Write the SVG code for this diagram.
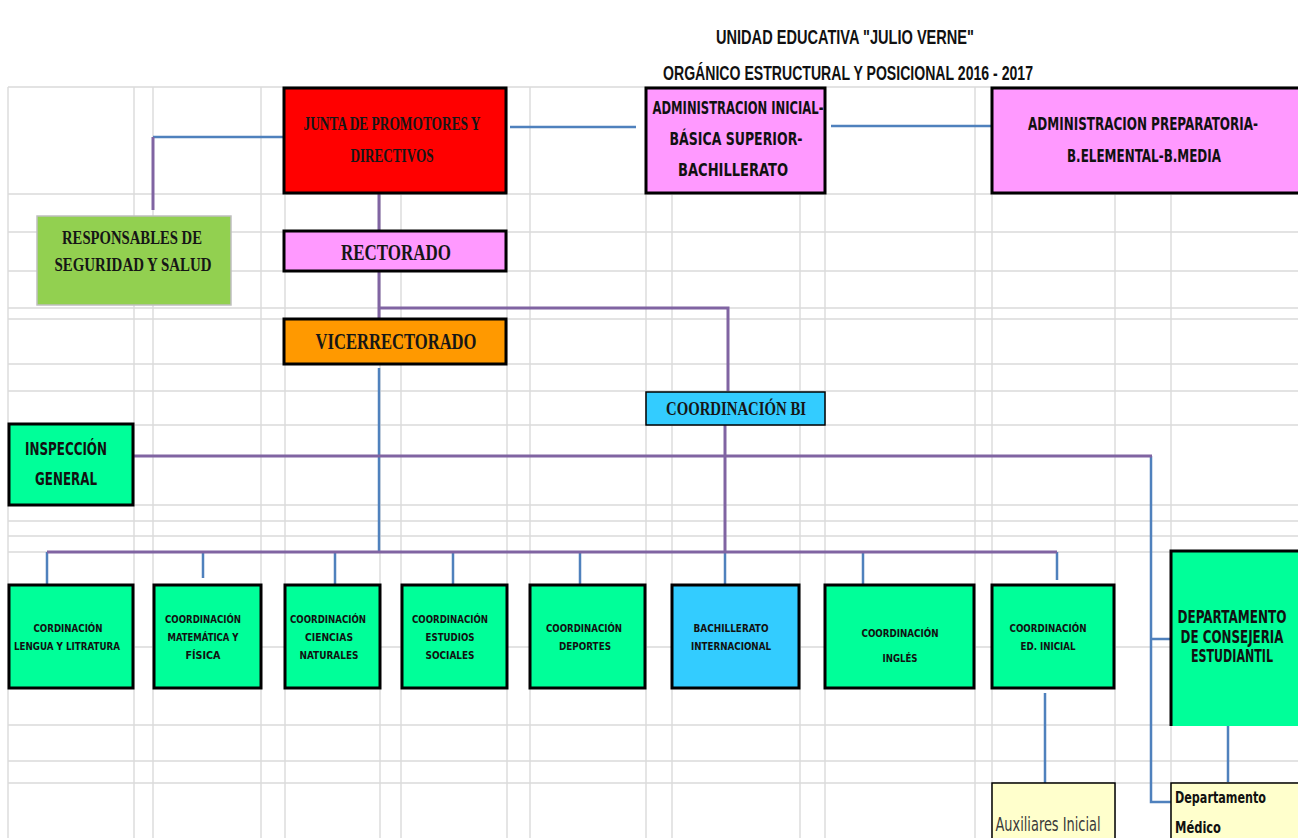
<svg xmlns="http://www.w3.org/2000/svg" width="1298" height="838" viewBox="0 0 1298 838">
<style>
.g{stroke:#DADADA;stroke-width:1.4}
.cb{stroke:#4F81BD;stroke-width:2.5;fill:none}
.cp{stroke:#8064A2;stroke-width:3;fill:none}
.bx{stroke:#000;stroke-width:3}
.th{stroke:#000;stroke-width:1.5}
.ti{font-family:"Liberation Sans",Arial,sans-serif;font-weight:bold;font-size:20px;fill:#111}
.sf{font-family:"Liberation Serif","Times New Roman",serif;font-weight:bold;fill:#161616}
.ag{font-family:"DejaVu Sans Condensed","DejaVu Sans",sans-serif;font-weight:bold;fill:#111}
.sm{font-family:"DejaVu Sans Condensed","DejaVu Sans",sans-serif;font-weight:bold;font-size:11px;fill:#111}
text{text-anchor:middle}
</style>
<rect width="1298" height="838" fill="#fff"/>
<g id="grid">
<path class="g" d="M8,87V838M134,87V838M153,87V838M261,87V838M285,87V838M380,87V838M401,87V838M507,87V838M530,87V838M646,87V838M672,87V838M800,87V838M825,87V838M975,87V838M992,87V838M1115,87V838M1171,87V838"/>
<path class="g" d="M8,87H1298M8,194H1298M8,232H1298M8,271H1298M8,308H1298M8,319H1298M8,364H1298M8,391H1298M8,425H1298M8,505H1298M8,521H1298M8,536H1298M8,552H1298M8,647H1298M8,725H1298M8,761H1298M8,783H1298"/>
</g>
<g id="title">
<text class="ti" x="845" y="44" textLength="258" lengthAdjust="spacingAndGlyphs">UNIDAD EDUCATIVA "JULIO VERNE"</text>
<text class="ti" x="848" y="80" textLength="370" lengthAdjust="spacingAndGlyphs">ORGÁNICO ESTRUCTURAL Y POSICIONAL 2016 - 2017</text>
</g>
<g id="connectors">
<path class="cb" d="M283,137H153"/>
<path class="cp" d="M153,137V210"/>
<path class="cb" d="M510,127H636"/>
<path class="cb" d="M831,126H994"/>
<path class="cp" d="M379,193V230M379,271V320M379,308H728V391"/>
<path class="cb" d="M379,368V552"/>
<path class="cp" d="M725,425V552"/>
<path class="cb" d="M47,552V584M203,552V578M335,552V584M453,552V584M580,552V584M725,552V584M863,552V584M1057,552V580"/>
<path class="cp" d="M47,552H1057"/>
<path class="cb" d="M1151,456V802H1171M1151,639H1171"/>
<path class="cp" d="M133,456H1152"/>
<path class="cb" d="M1045,693V783M1228,726V782"/>
</g>
<g id="junta">
<rect class="bx" x="284" y="88" width="222" height="105" fill="#FF0000"/>
<text class="sf" x="392" y="130" font-size="18" textLength="177" lengthAdjust="spacingAndGlyphs">JUNTA DE PROMOTORES Y</text>
<text class="sf" x="392" y="162" font-size="18" textLength="83" lengthAdjust="spacingAndGlyphs">DIRECTIVOS</text>
</g>
<g id="admin-inicial">
<rect class="bx" x="646" y="88" width="179" height="105" fill="#FF99FF"/>
<text class="ag" x="738" y="114" font-size="17" textLength="171" lengthAdjust="spacingAndGlyphs">ADMINISTRACION INICIAL-</text>
<text class="ag" x="736" y="145" font-size="17" textLength="133" lengthAdjust="spacingAndGlyphs">BÁSICA SUPERIOR-</text>
<text class="ag" x="733" y="176" font-size="17" textLength="110" lengthAdjust="spacingAndGlyphs">BACHILLERATO</text>
</g>
<g id="admin-preparatoria">
<rect x="992" y="88" width="306" height="105" fill="#FF99FF"/>
<path d="M1298,88H992V193H1298" fill="none" stroke="#000" stroke-width="3"/>
<text class="ag" x="1143" y="130" font-size="17" textLength="230" lengthAdjust="spacingAndGlyphs">ADMINISTRACION PREPARATORIA-</text>
<text class="ag" x="1144" y="162" font-size="17" textLength="154" lengthAdjust="spacingAndGlyphs">B.ELEMENTAL-B.MEDIA</text>
</g>
<g id="responsables">
<rect x="37" y="216" width="194" height="89" fill="#92D050" stroke="#BFBFBF" stroke-width="1.5"/>
<text class="sf" x="132" y="244" font-size="18" textLength="140" lengthAdjust="spacingAndGlyphs">RESPONSABLES  DE</text>
<text class="sf" x="133" y="271" font-size="18" textLength="157" lengthAdjust="spacingAndGlyphs">SEGURIDAD  Y SALUD</text>
</g>
<g id="rectorado">
<rect class="bx" x="284" y="231" width="222" height="40" fill="#FF99FF"/>
<text class="sf" x="396" y="260" font-size="23" textLength="110" lengthAdjust="spacingAndGlyphs">RECTORADO</text>
</g>
<g id="vicerrectorado">
<rect class="bx" x="284" y="319" width="222" height="45" fill="#FF9900"/>
<text class="sf" x="396" y="349" font-size="24" textLength="161" lengthAdjust="spacingAndGlyphs">VICERRECTORADO</text>
</g>
<g id="coordinacion-bi">
<rect class="th" x="646" y="392" width="179" height="33" fill="#33CCFF"/>
<text class="sf" x="736" y="415" font-size="18" textLength="140" lengthAdjust="spacingAndGlyphs">COORDINACIÓN BI</text>
</g>
<g id="inspeccion">
<rect class="bx" x="9" y="424" width="124" height="81" fill="#00FF99"/>
<text class="ag" x="66" y="455" font-size="17" textLength="82" lengthAdjust="spacingAndGlyphs">INSPECCIÓN</text>
<text class="ag" x="66" y="485" font-size="17" textLength="62" lengthAdjust="spacingAndGlyphs">GENERAL</text>
</g>
<g id="lengua">
<rect class="bx" x="9" y="585" width="124" height="103" fill="#00FF99"/>
<text class="sm" x="68" y="632" textLength="69" lengthAdjust="spacingAndGlyphs">CORDINACIÓN</text>
<text class="sm" x="67" y="650" textLength="106" lengthAdjust="spacingAndGlyphs">LENGUA Y LITRATURA</text>
</g>
<g id="matematica">
<rect class="bx" x="154" y="585" width="107" height="103" fill="#00FF99"/>
<text class="sm" x="203" y="623" textLength="76" lengthAdjust="spacingAndGlyphs">COORDINACIÓN</text>
<text class="sm" x="203" y="641" textLength="71" lengthAdjust="spacingAndGlyphs">MATEMÁTICA Y</text>
<text class="sm" x="203" y="659" textLength="35" lengthAdjust="spacingAndGlyphs">FÍSICA</text>
</g>
<g id="ciencias">
<rect class="bx" x="285" y="585" width="95" height="103" fill="#00FF99"/>
<text class="sm" x="328" y="623" textLength="76" lengthAdjust="spacingAndGlyphs">COORDINACIÓN</text>
<text class="sm" x="329" y="641" textLength="48" lengthAdjust="spacingAndGlyphs">CIENCIAS</text>
<text class="sm" x="329" y="659" textLength="59" lengthAdjust="spacingAndGlyphs">NATURALES</text>
</g>
<g id="estudios">
<rect class="bx" x="402" y="585" width="105" height="103" fill="#00FF99"/>
<text class="sm" x="450" y="623" textLength="76" lengthAdjust="spacingAndGlyphs">COORDINACIÓN</text>
<text class="sm" x="450" y="641" textLength="49" lengthAdjust="spacingAndGlyphs">ESTUDIOS</text>
<text class="sm" x="450" y="659" textLength="49" lengthAdjust="spacingAndGlyphs">SOCIALES</text>
</g>
<g id="deportes">
<rect class="bx" x="530" y="585" width="115" height="103" fill="#00FF99"/>
<text class="sm" x="584" y="632" textLength="76" lengthAdjust="spacingAndGlyphs">COORDINACIÓN</text>
<text class="sm" x="585" y="650" textLength="52" lengthAdjust="spacingAndGlyphs">DEPORTES</text>
</g>
<g id="bachillerato">
<rect class="bx" x="672" y="585" width="127" height="103" fill="#33CCFF"/>
<text class="sm" x="731" y="632" textLength="75" lengthAdjust="spacingAndGlyphs">BACHILLERATO</text>
<text class="sm" x="731" y="650" textLength="80" lengthAdjust="spacingAndGlyphs">INTERNACIONAL</text>
</g>
<g id="ingles">
<rect class="bx" x="825" y="585" width="149" height="103" fill="#00FF99"/>
<text class="sm" x="900" y="637" textLength="77" lengthAdjust="spacingAndGlyphs">COORDINACIÓN</text>
<text class="sm" x="900" y="662" textLength="35" lengthAdjust="spacingAndGlyphs">INGLÉS</text>
</g>
<g id="ed-inicial">
<rect class="bx" x="992" y="585" width="122" height="103" fill="#00FF99"/>
<text class="sm" x="1048" y="632" textLength="77" lengthAdjust="spacingAndGlyphs">COORDINACIÓN</text>
<text class="sm" x="1048" y="650" textLength="55" lengthAdjust="spacingAndGlyphs">ED. INICIAL</text>
</g>
<g id="consejeria">
<rect x="1171" y="551" width="127" height="175" fill="#00FF99"/>
<path d="M1171,726V551H1298" fill="none" stroke="#000" stroke-width="3"/>
<text class="ag" x="1232" y="623" font-size="18" textLength="109" lengthAdjust="spacingAndGlyphs">DEPARTAMENTO</text>
<text class="ag" x="1232" y="643" font-size="18" textLength="103" lengthAdjust="spacingAndGlyphs">DE CONSEJERIA</text>
<text class="ag" x="1232" y="662" font-size="18" textLength="82" lengthAdjust="spacingAndGlyphs">ESTUDIANTIL</text>
</g>
<g id="auxiliares">
<rect x="992" y="783" width="123" height="55" fill="#FFFFCC"/>
<path d="M992,838V783H1115V838" fill="none" stroke="#000" stroke-width="1.5"/>
<text x="1048" y="831" font-family="DejaVu Sans Condensed, DejaVu Sans, sans-serif" font-size="20" fill="#3A3A3A" textLength="105" lengthAdjust="spacingAndGlyphs">Auxiliares Inicial</text>
</g>
<g id="medico">
<rect x="1171" y="783" width="127" height="55" fill="#FFFFCC"/>
<path d="M1171,838V783H1298" fill="none" stroke="#000" stroke-width="1.5"/>
<text class="ag" x="1175" y="803" font-size="16" style="text-anchor:start" textLength="91" lengthAdjust="spacingAndGlyphs">Departamento</text>
<text class="ag" x="1175" y="833" font-size="16" style="text-anchor:start" textLength="46" lengthAdjust="spacingAndGlyphs">Médico</text>
</g>
</svg>
